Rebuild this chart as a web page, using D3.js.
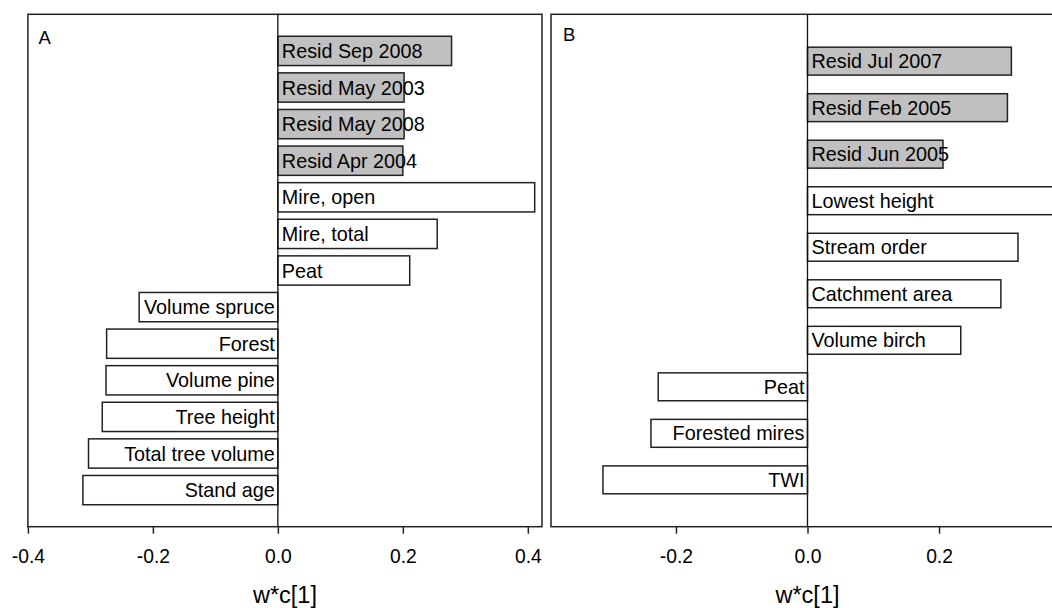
<!DOCTYPE html>
<html>
<head>
<meta charset="utf-8">
<script src="https://cdn.jsdelivr.net/npm/d3@7"></script>
<style>
  html, body { margin: 0; padding: 0; background: #fff; }
  svg { display: block; }
  text { font-family: "Liberation Sans", Arial, sans-serif; fill: #000; }
</style>
</head>
<body>
<svg id="chart" width="1052" height="608"></svg>
<script>
// Panel A data
const catsA = ["Resid Sep 2008", "Resid May 2003", "Resid May 2008", "Resid Apr 2004",
  "Mire, open", "Mire, total", "Peat", "Volume spruce", "Forest", "Volume pine",
  "Tree height", "Total tree volume", "Stand age"];
const valsA = [0.278, 0.202, 0.202, 0.200, 0.411, 0.255, 0.211,
  -0.222, -0.274, -0.275, -0.281, -0.303, -0.312];
const residA = [true, true, true, true, false, false, false, false, false, false, false, false, false];
const ticksA = [-0.4, -0.2, 0.0, 0.2, 0.4];

// Panel B data
const catsB = ["Resid Jul 2007", "Resid Feb 2005", "Resid Jun 2005", "Lowest height",
  "Stream order", "Catchment area", "Volume birch", "Peat", "Forested mires", "TWI"];
const valsB = [0.310, 0.304, 0.206, 0.385, 0.320, 0.294, 0.233, -0.227, -0.238, -0.311];
const residB = [true, true, true, false, false, false, false, false, false, false];
const ticksB = [-0.2, 0.0, 0.2];

const axisTitle = "w*c[1]";

const svg = d3.select("#chart");
const plotTop = 14.3, plotBottom = 526.7;

function panel(cfg) {
  const g = svg.append("g");
  const x = d3.scaleLinear().domain(cfg.domain).range([cfg.left, cfg.right]);
  const y = d3.scaleBand().domain(cfg.cats).range([plotTop, plotBottom])
    .paddingInner(cfg.pi).paddingOuter(cfg.po);
  const data = cfg.cats.map((c, i) => ({ c, v: cfg.vals[i], r: cfg.resid[i] }));

  // frame
  g.append("rect")
    .attr("x", cfg.left).attr("y", plotTop)
    .attr("width", cfg.right - cfg.left).attr("height", plotBottom - plotTop)
    .attr("fill", "none").attr("stroke", "#222").attr("stroke-width", 1.5);

  // bars
  g.selectAll("rect.bar").data(data).enter().append("rect")
    .attr("class", "bar")
    .attr("x", d => x(Math.min(0, d.v)))
    .attr("y", d => y(d.c))
    .attr("width", d => Math.abs(x(d.v) - x(0)))
    .attr("height", y.bandwidth())
    .attr("fill", d => d.r ? "#c0c0c0" : "#fff")
    .attr("stroke", "#222").attr("stroke-width", 1.5);

  // zero line
  g.append("line")
    .attr("x1", x(0)).attr("x2", x(0))
    .attr("y1", plotTop).attr("y2", plotBottom)
    .attr("stroke", "#111").attr("stroke-width", 1.3);

  // labels
  g.selectAll("text.lab").data(data).enter().append("text")
    .attr("class", "lab")
    .attr("x", d => d.v >= 0 ? x(0) + 4 : x(0) - 3)
    .attr("y", d => y(d.c) + y.bandwidth() / 2 + 7)
    .attr("text-anchor", d => d.v >= 0 ? "start" : "end")
    .style("font-size", "19.8px")
    .text(d => d.c);

  // axis
  const ax = g.append("g")
    .attr("transform", `translate(0,${plotBottom})`)
    .call(d3.axisBottom(x).tickValues(cfg.ticks).tickSize(7).tickPadding(15.6)
      .tickFormat(d => d.toFixed(1)));
  ax.select(".domain").remove();
  ax.selectAll(".tick line").attr("stroke", "#222").attr("stroke-width", 1.5);
  ax.selectAll(".tick text").style("font-size", "19.3px")
    .style("font-family", "'Liberation Sans', Arial, sans-serif").attr("fill", "#000");

  // panel letter
  g.append("text").attr("x", cfg.letterX).attr("y", cfg.letterY)
    .style("font-size", "18.5px").text(cfg.letter);

  // axis title
  g.append("text").attr("x", (cfg.left + cfg.right) / 2).attr("y", 603)
    .attr("text-anchor", "middle").style("font-size", "23.5px").text(axisTitle);
}

panel({ cats: catsA, vals: valsA, resid: residA, ticks: ticksA,
  domain: [-0.4, 0.4227], left: 27.9, right: 542, pi: 0.2, po: 0.6,
  letter: "A", letterX: 38.5, letterY: 44 });

panel({ cats: catsB, vals: valsB, resid: residB, ticks: ticksB,
  domain: [-0.39, 0.39], left: 551, right: 1064, pi: 0.4, po: 0.707,
  letter: "B", letterX: 563, letterY: 41 });
</script>
</body>
</html>
